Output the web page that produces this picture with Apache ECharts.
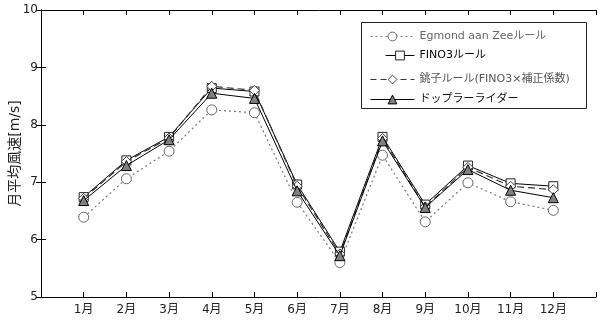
<!DOCTYPE html>
<html><head><meta charset="utf-8">
<script src="https://cdn.jsdelivr.net/npm/echarts@6/dist/echarts.min.js"></script>
<style>html,body{margin:0;padding:0;background:#fff}#c{width:598px;height:320px}</style>
</head><body><div id="c"></div>
<script>
const months = ['1月','2月','3月','4月','5月','6月','7月','8月','9月','10月','11月','12月'];
const yTicks = [5, 6, 7, 8, 9, 10];
const seriesNames = ['Egmond aan Zeeルール', 'FINO3ルール', '銚子ルール(FINO3×補正係数)', 'ドップラーライダー'];
const egmond  = [6.39, 7.06, 7.54, 8.26, 8.21, 6.65, 5.60, 7.47, 6.31, 6.99, 6.66, 6.51];
const fino3   = [6.74, 7.38, 7.79, 8.64, 8.58, 6.96, 5.79, 7.79, 6.61, 7.29, 6.98, 6.93];
const choshi  = [6.72, 7.36, 7.77, 8.67, 8.60, 6.93, 5.75, 7.76, 6.57, 7.26, 6.93, 6.87];
const doppler = [6.68, 7.29, 7.74, 8.55, 8.46, 6.85, 5.72, 7.72, 6.56, 7.22, 6.86, 6.73];

const FONT = '"DejaVu Sans", "Noto Sans CJK JP", sans-serif';
const toXY = arr => arr.map((v, i) => [i + 1, v]);

const chart = echarts.init(document.getElementById('c'), null, {renderer: 'canvas'});

const axisLine = {show: true, lineStyle: {color: '#000', width: 1}};
const tickIn = {show: true, inside: true, length: 5, lineStyle: {color: '#000', width: 1}};

function legendAt(name, left, top, width, color, dash) {
  return {
    data: [name], left: left, top: top, orient: 'vertical',
    itemWidth: width, itemHeight: 11, itemGap: 5, padding: 0,
    textStyle: {fontSize: 11, color: color, fontFamily: FONT},
    lineStyle: {width: 1, type: dash},
    itemStyle: {borderWidth: 1},
    selectedMode: false
  };
}

chart.setOption({
  animation: false,
  backgroundColor: '#fff',
  grid: {left: 41, right: 2, top: 10, bottom: 23, containLabel: false, outerBoundsMode: 'none'},
  xAxis: [{
    type: 'value', min: 0, max: 13, interval: 1, position: 'bottom',
    axisLine: axisLine, axisTick: tickIn, splitLine: {show: false},
    axisLabel: {
      fontSize: 12, color: '#222', fontFamily: FONT, margin: 7,
      formatter: v => (v >= 1 && v <= 12) ? months[v - 1] : ''
    }
  }, {
    type: 'value', min: 0, max: 13, interval: 1, position: 'top',
    axisLine: axisLine, axisTick: tickIn, splitLine: {show: false},
    axisLabel: {show: false}
  }],
  yAxis: [{
    type: 'value', min: yTicks[0], max: yTicks[yTicks.length - 1], interval: 1, position: 'left',
    axisLine: axisLine, axisTick: tickIn, splitLine: {show: false},
    axisLabel: {fontSize: 12, color: '#222', fontFamily: FONT, margin: 3},
    name: '月平均風速[m/s]', nameLocation: 'middle', nameGap: 19, nameMoveOverlap: false,
    nameTextStyle: {fontSize: 14, color: '#222', fontFamily: FONT}
  }, {
    type: 'value', min: yTicks[0], max: yTicks[yTicks.length - 1], interval: 1, position: 'right',
    axisLine: axisLine, axisTick: tickIn, splitLine: {show: false},
    axisLabel: {show: false}
  }],
  legend: [
    legendAt(seriesNames[0], 370, 31, 44, '#666', [2, 3]),
    legendAt(seriesNames[1], 385, 50, 29, '#000', 'solid'),
    legendAt(seriesNames[2], 370, 74, 44, '#555', [6, 4]),
    legendAt(seriesNames[3], 370, 94, 44, '#111', 'solid')
  ],
  graphic: [{
    type: 'rect', z: 3, silent: true,
    shape: {x: 361.5, y: 22.5, width: 225, height: 86},
    style: {fill: '#fff', stroke: '#222', lineWidth: 1}
  }],
  series: [{
    name: seriesNames[0], type: 'line', data: toXY(egmond),
    symbol: 'circle', symbolSize: 10, z: 2,
    lineStyle: {color: '#777', width: 1.2, type: [2, 3]},
    itemStyle: {color: '#fff', borderColor: '#666', borderWidth: 1}
  }, {
    name: seriesNames[1], type: 'line', data: toXY(fino3),
    symbol: 'rect', symbolSize: 9, z: 3,
    lineStyle: {color: '#000', width: 1},
    itemStyle: {color: '#fff', borderColor: '#222', borderWidth: 1}
  }, {
    name: seriesNames[2], type: 'line', data: toXY(choshi),
    symbol: 'diamond', symbolSize: 10, z: 4,
    lineStyle: {color: '#333', width: 1.2, type: [7, 4]},
    itemStyle: {color: '#fff', borderColor: '#444', borderWidth: 1}
  }, {
    name: seriesNames[3], type: 'line', data: toXY(doppler),
    symbol: 'triangle', symbolSize: 10, z: 5,
    lineStyle: {color: '#000', width: 1},
    itemStyle: {color: '#808080', borderColor: '#000', borderWidth: 1}
  }]
});
</script>
</body></html>
